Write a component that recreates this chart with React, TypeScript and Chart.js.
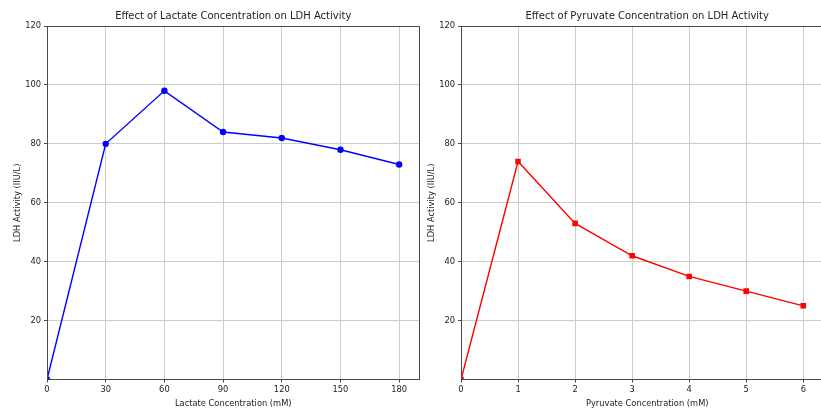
import React, { useEffect, useRef } from 'react';
import { Chart, registerables } from 'chart.js';

Chart.register(...registerables);

const lactateConc = [0, 30, 60, 90, 120, 150, 180];
const lactateActivity = [0, 80, 98, 84, 82, 78, 73];
const pyruvateConc = [0, 1, 2, 3, 4, 5, 6];
const pyruvateActivity = [0, 74, 53, 42, 35, 30, 25];
const lactateTicks = [0, 30, 60, 90, 120, 150, 180];
const pyruvateTicks = [0, 1, 2, 3, 4, 5, 6];
const yTicks = [20, 40, 60, 80, 100, 120];

const FONT = '"DejaVu Sans", sans-serif';

type PanelProps = {
  left: number;
  xs: number[];
  ys: number[];
  xTicks: number[];
  xMax: number;
  color: string;
  pointStyle: string;
  pointRadius: number;
  title: string;
  xLabel: string;
  yLabel: string;
};

function Panel(p: PanelProps) {
  const ref = useRef<HTMLCanvasElement | null>(null);
  useEffect(() => {
    if (!ref.current) return;
    const decor = {
      id: 'decor',
      afterDraw(chart: any) {
        const { ctx, chartArea: a } = chart;
        ctx.save();
        ctx.strokeStyle = '#4a4a4a';
        ctx.lineWidth = 1;
        const l = Math.floor(a.left) + 0.5;
        const t = Math.floor(a.top) + 0.5;
        const r = Math.floor(a.right) + 0.5;
        const b = Math.floor(a.bottom) + 0.5;
        ctx.strokeRect(l, t, r - l, b - t);
        ctx.fillStyle = '#222';
        ctx.textAlign = 'center';
        ctx.textBaseline = 'middle';
        const cx = (a.left + a.right) / 2;
        ctx.font = `10px ${FONT}`;
        ctx.fillText(p.title, cx, 16.5);
        ctx.font = `8.3px ${FONT}`;
        ctx.fillText(p.xLabel, cx, 404);
        ctx.translate(18, (a.top + a.bottom) / 2);
        ctx.rotate(-Math.PI / 2);
        ctx.fillText(p.yLabel, 0, 0);
        ctx.restore();
      },
    };
    const tickFont = { family: FONT, size: 8.3 };
    const chart = new Chart(ref.current, {
      type: 'line',
      data: {
        datasets: [
          {
            data: p.xs.map((x, i) => ({ x, y: p.ys[i] })),
            borderColor: p.color,
            backgroundColor: p.color,
            borderWidth: 1.4,
            pointStyle: p.pointStyle as any,
            pointRadius: p.pointRadius,
            pointBorderWidth: 0,
            pointBackgroundColor: p.color,
            tension: 0,
          },
        ],
      },
      options: {
        animation: false,
        responsive: false,
        events: [],
        layout: { padding: { left: 0, top: 26, right: 20.5, bottom: 0 } },
        plugins: {
          legend: { display: false },
          tooltip: { enabled: false },
          title: { display: false },
        },
        scales: {
          x: {
            type: 'linear',
            min: 0,
            max: p.xMax,
            afterBuildTicks: (s: any) => {
              s.ticks = p.xTicks.map((v) => ({ value: v }));
            },
            afterFit: (s: any) => {
              s.height = 30.5;
            },
            grid: { color: '#cdcdcd', lineWidth: 1, tickLength: 3, tickColor: '#4a4a4a', drawTicks: true },
            border: { display: false },
            ticks: { font: tickFont, color: '#222', padding: 2, maxRotation: 0, autoSkip: false },
          },
          y: {
            type: 'linear',
            min: 0,
            max: 120,
            afterBuildTicks: (s: any) => {
              s.ticks = yTicks.map((v) => ({ value: v }));
            },
            afterFit: (s: any) => {
              s.width = 47;
            },
            grid: { color: '#cdcdcd', lineWidth: 1, tickLength: 3, tickColor: '#4a4a4a', drawTicks: true },
            border: { display: false },
            ticks: { font: tickFont, color: '#222', padding: 3, autoSkip: false },
          },
        },
      },
      plugins: [decor],
    });
    return () => chart.destroy();
  }, []);
  return (
    <canvas
      ref={ref}
      width={440}
      height={410}
      style={{ position: 'absolute', left: p.left, top: 0, width: 440, height: 410 }}
    />
  );
}

export default function App() {
  return (
    <div
      style={{
        position: 'absolute',
        left: 0,
        top: 0,
        width: 821,
        height: 410,
        overflow: 'hidden',
        background: '#fff',
      }}
    >
      <Panel
        left={0}
        xs={lactateConc}
        ys={lactateActivity}
        xTicks={lactateTicks}
        xMax={190.4}
        color="#0000ff"
        pointStyle="circle"
        pointRadius={3.2}
        title="Effect of Lactate Concentration on LDH Activity"
        xLabel="Lactate Concentration (mM)"
        yLabel="LDH Activity (IIU/L)"
      />
      <Panel
        left={414}
        xs={pyruvateConc}
        ys={pyruvateActivity}
        xTicks={pyruvateTicks}
        xMax={6.53}
        color="#ff0000"
        pointStyle="rect"
        pointRadius={3.9}
        title="Effect of Pyruvate Concentration on LDH Activity"
        xLabel="Pyruvate Concentration (mM)"
        yLabel="LDH Activity (IIU/L)"
      />
    </div>
  );
}
